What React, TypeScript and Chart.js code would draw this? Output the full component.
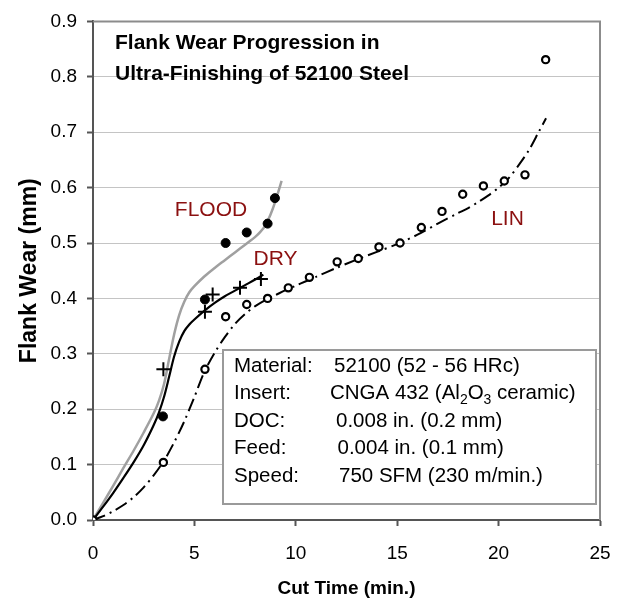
import React, { useEffect, useRef } from "react";
import { Chart, registerables } from "chart.js";

Chart.register(...registerables);

// Measured points
const floodTime = [3.45, 5.52, 6.54, 7.58, 8.61, 8.97];
const floodWear = [0.187, 0.398, 0.5, 0.519, 0.535, 0.581];

const dryTime = [3.47, 5.52, 5.9, 7.25, 8.28];
const dryWear = [0.272, 0.376, 0.407, 0.419, 0.435];

const linTime = [0, 3.47, 5.52, 6.54, 7.58, 8.61, 9.63, 10.67, 12.04, 13.08, 14.1, 15.14, 16.19, 17.21, 18.23, 19.25, 20.28, 21.3, 22.32];
const linWear = [0, 0.104, 0.272, 0.367, 0.389, 0.4, 0.419, 0.438, 0.466, 0.472, 0.493, 0.5, 0.528, 0.557, 0.588, 0.603, 0.612, 0.623, 0.831];

// Fitted trend curves
const floodFitTime = [0, 0.5, 1, 1.5, 2, 2.5, 3, 3.25, 3.5, 3.75, 4, 4.25, 4.5, 4.75, 5, 5.5, 6, 6.5, 7, 7.5, 8, 8.25, 8.5, 8.75, 9, 9.3];
const floodFitWear = [0, 0.031, 0.062, 0.094, 0.125, 0.158, 0.193, 0.215, 0.245, 0.29, 0.335, 0.37, 0.394, 0.411, 0.422, 0.44, 0.455, 0.469, 0.483, 0.497, 0.511, 0.52, 0.532, 0.551, 0.576, 0.612];

const dryFitTime = [0, 0.5, 1, 1.5, 2, 2.5, 3, 3.25, 3.5, 3.75, 4, 4.25, 4.5, 4.75, 5, 5.5, 6, 6.5, 7, 7.5, 8, 8.4];
const dryFitWear = [0, 0.024, 0.049, 0.076, 0.104, 0.135, 0.172, 0.194, 0.222, 0.258, 0.295, 0.322, 0.341, 0.353, 0.362, 0.378, 0.392, 0.404, 0.414, 0.424, 0.434, 0.443];

const linFitTime = [0, 0.5, 1, 1.5, 2, 2.5, 3, 3.5, 4, 4.5, 5, 5.5, 6, 6.5, 7, 7.5, 8, 8.5, 9, 9.5, 10, 10.5, 11, 12, 13, 14, 15, 16, 17, 18, 18.5, 19, 19.5, 20, 20.5, 21, 21.5, 22, 22.34];
const linFitWear = [0, 0.007, 0.016, 0.027, 0.041, 0.059, 0.081, 0.107, 0.14, 0.178, 0.222, 0.268, 0.302, 0.33, 0.354, 0.372, 0.386, 0.397, 0.406, 0.415, 0.423, 0.431, 0.439, 0.455, 0.47, 0.484, 0.498, 0.515, 0.535, 0.554, 0.563, 0.574, 0.586, 0.6, 0.617, 0.641, 0.668, 0.702, 0.725];

const xTicks = [0, 5, 10, 15, 20, 25];
const yTicks = [0, 0.1, 0.2, 0.3, 0.4, 0.5, 0.6, 0.7, 0.8, 0.9];

const titleLines = ["Flank Wear Progression in", "Ultra-Finishing of 52100 Steel"];
const seriesLabels = [
  { text: "FLOOD", x: 5.82, y: 0.5496 },
  { text: "DRY", x: 9.0, y: 0.4604 },
  { text: "LIN", x: 20.44, y: 0.5317 },
];
const infoLabels = ["Material:", "Insert:", "DOC:", "Feed:", "Speed:"];
const infoValues = ["52100 (52 - 56 HRc)", "CNGA 432 (Al2O3 ceramic)", "0.008 in. (0.2 mm)", "0.004 in. (0.1 mm)", "750 SFM (230 m/min.)"];

const FONT = "'Liberation Sans', Arial, Helvetica, sans-serif";

const zip = (xs: number[], ys: number[]) => xs.map((x, i) => ({ x, y: ys[i] }));

const overlayPlugin = {
  id: "overlay",
  beforeDatasetsDraw(chart: any) {
    const ctx = chart.ctx as CanvasRenderingContext2D;
    const { left, top, right, bottom } = chart.chartArea;
    const xs = chart.scales.x;
    const ys = chart.scales.y;
    ctx.save();
    // frame top/right
    ctx.strokeStyle = "#8c8c8c";
    ctx.lineWidth = 2;
    ctx.beginPath();
    ctx.moveTo(left, top);
    ctx.lineTo(right, top);
    ctx.lineTo(right, bottom);
    ctx.stroke();

    // title
    ctx.fillStyle = "#000";
    ctx.font = `bold 21px ${FONT}`;
    ctx.textAlign = "left";
    ctx.textBaseline = "alphabetic";
    ctx.fillText(titleLines[0], 115, 49);
    ctx.fillText(titleLines[1], 115, 79.5);

    // info box
    const bx = 223, by = 350, bw = 373, bh = 154;
    ctx.fillStyle = "#fff";
    ctx.fillRect(bx, by, bw, bh);
    ctx.strokeStyle = "#9a9a9a";
    ctx.lineWidth = 2;
    ctx.strokeRect(bx, by, bw, bh);

    const baselines = [371.7, 398.5, 427, 454, 482];
    const valueX = [334, 330, 336, 337.5, 339];
    ctx.fillStyle = "#000";
    ctx.font = `20.5px ${FONT}`;
    infoLabels.forEach((t, i) => ctx.fillText(t, 234, baselines[i]));
    infoValues.forEach((t, i) => {
      if (i === 1) {
        // chemical formula with subscripts
        const parts: [string, boolean][] = [["CNGA 432 (Al", false], ["2", true], ["O", false], ["3", true], [" ceramic)", false]];
        let cx = valueX[i];
        parts.forEach(([s, sub]) => {
          ctx.font = sub ? `14px ${FONT}` : `20.5px ${FONT}`;
          ctx.fillText(s, cx, baselines[i] + (sub ? 5 : 0));
          cx += ctx.measureText(s).width;
        });
        ctx.font = `20.5px ${FONT}`;
      } else {
        ctx.fillText(t, valueX[i], baselines[i]);
      }
    });

    // series labels
    ctx.fillStyle = "#8b1010";
    ctx.font = `21px ${FONT}`;
    ctx.textAlign = "center";
    seriesLabels.forEach((l) => {
      ctx.fillText(l.text, xs.getPixelForValue(l.x), ys.getPixelForValue(l.y));
    });
    ctx.restore();
  },
};

export default function App() {
  const ref = useRef<HTMLCanvasElement | null>(null);
  useEffect(() => {
    if (!ref.current) return;
    const chart = new Chart(ref.current, {
      type: "scatter",
      data: {
        datasets: [
          {
            label: "LIN",
            data: zip(linTime, linWear),
            pointStyle: "circle",
            pointRadius: 3.6,
            pointBorderWidth: 2.2,
            borderColor: "#000",
            backgroundColor: "#fff",
            showLine: false,
            order: 0,
          },
          {
            label: "DRY",
            data: zip(dryTime, dryWear),
            pointStyle: "cross",
            pointRadius: 7,
            pointBorderWidth: 2,
            borderColor: "#000",
            backgroundColor: "#000",
            showLine: false,
            order: 1,
          },
          {
            label: "FLOOD",
            data: zip(floodTime, floodWear),
            pointStyle: "circle",
            pointRadius: 4.5,
            pointBorderWidth: 1,
            borderColor: "#000",
            backgroundColor: "#000",
            showLine: false,
            order: 2,
          },
          {
            label: "LIN fit",
            data: zip(linFitTime, linFitWear),
            showLine: true,
            borderColor: "#000",
            borderWidth: 2,
            borderDash: [13, 5, 2, 5],
            pointRadius: 0,
            tension: 0.3,
            order: 3,
          },
          {
            label: "DRY fit",
            data: zip(dryFitTime, dryFitWear),
            showLine: true,
            borderColor: "#000",
            borderWidth: 2.2,
            pointRadius: 0,
            tension: 0.3,
            order: 4,
          },
          {
            label: "FLOOD fit",
            data: zip(floodFitTime, floodFitWear),
            showLine: true,
            borderColor: "#a0a0a0",
            borderWidth: 2.5,
            pointRadius: 0,
            tension: 0.3,
            order: 5,
          },
        ],
      } as any,
      options: {
        animation: false,
        responsive: false,
        devicePixelRatio: 1,
        events: [],
        layout: { padding: { top: 15, right: 29, left: 0, bottom: 0 } },
        plugins: { legend: { display: false }, tooltip: { enabled: false } },
        scales: {
          x: {
            type: "linear",
            min: 0,
            max: 25,
            afterFit: (s: any) => { s.height = 84; },
            afterBuildTicks: (s: any) => { s.ticks = xTicks.map((v) => ({ value: v })); },
            ticks: { color: "#000", font: { family: FONT, size: 19 }, padding: 16, autoSkip: false, maxRotation: 0 },
            grid: { drawOnChartArea: false, drawTicks: true, tickLength: 6, tickColor: "#555", tickWidth: 2 },
            border: { color: "#555", width: 2 },
            title: { display: true, text: "Cut Time (min.)", color: "#000", font: { family: FONT, size: 19, weight: "bold" }, padding: { top: 0, bottom: 3.6 } },
          },
          y: {
            type: "linear",
            min: 0,
            max: 0.9,
            afterFit: (s: any) => { s.width = 93; },
            afterBuildTicks: (s: any) => { s.ticks = yTicks.map((v) => ({ value: v })); },
            ticks: { color: "#000", font: { family: FONT, size: 19 }, padding: 10, autoSkip: false, callback: (v: any) => Number(v).toFixed(1) },
            grid: { color: "#c4c4c4", lineWidth: 1, borderDash: [8, 5], drawTicks: true, tickLength: 6, tickColor: "#555", tickWidth: 2, tickBorderDash: [] },
            border: { color: "#555", width: 2 },
            title: { display: true, text: "Flank Wear (mm)", color: "#000", font: { family: FONT, size: 23, weight: "bold" }, padding: { top: 16, bottom: 0 } },
          },
        },
      } as any,
      plugins: [overlayPlugin],
    });
    return () => chart.destroy();
  }, []);
  return (
    <div style={{ position: "absolute", left: 0, top: 0, width: 629, height: 604 }}>
      <canvas ref={ref} width={629} height={604} style={{ width: 629, height: 604, display: "block" }} />
    </div>
  );
}
